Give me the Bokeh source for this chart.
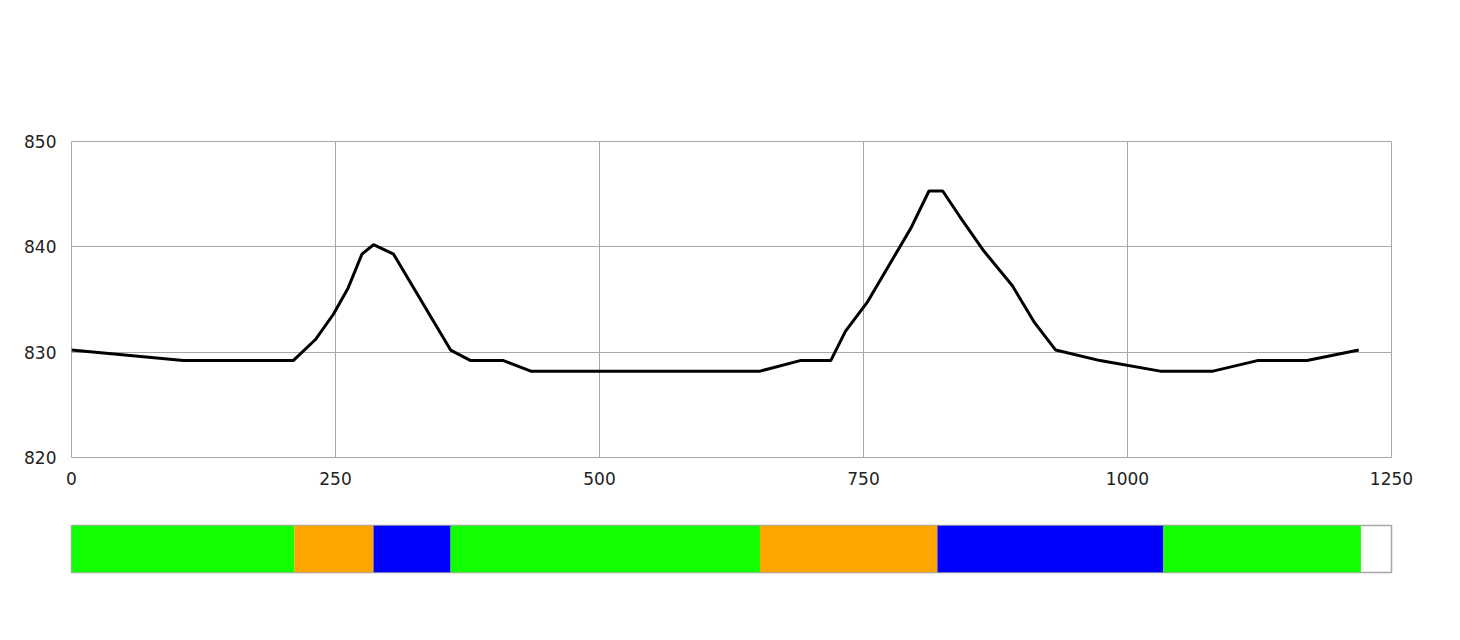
from bokeh.plotting import figure
from bokeh.layouts import column
from bokeh.models import Range1d, FixedTicker
from bokeh.embed import file_html
from bokeh.resources import INLINE

# Elevation profile
distance = [0, 106, 210, 231, 248, 262, 275, 286, 305, 359, 378, 409, 435, 652, 690, 719, 733,
            754, 795, 812, 825, 841, 864, 891, 912, 932, 974, 1031, 1081, 1123, 1170, 1219]
elevation = [830.2, 829.2, 829.2, 831.2, 833.6, 836.1, 839.3, 840.2, 839.3, 830.2, 829.2, 829.2, 828.2, 828.2, 829.2, 829.2, 832.0,
             834.8, 841.8, 845.3, 845.3, 842.9, 839.6, 836.3, 832.8, 830.2, 829.2, 828.2, 828.2, 829.2, 829.2, 830.2]

x_ticks = [0, 250, 500, 750, 1000, 1250]
y_ticks = [820, 830, 840, 850]

# Surface segments
seg_start = [0, 211, 286, 359, 652, 820, 1034]
seg_end = [211, 286, 359, 652, 820, 1034, 1221]
seg_color = ["#11FF00", "#FFA500", "#0000FF", "#11FF00", "#FFA500", "#0000FF", "#11FF00"]

FONT = "DejaVu Sans"
GRID = "#a8a8a8"

p = figure(width=1440, height=500, output_backend="svg", toolbar_location=None,
           x_range=Range1d(0, 1250), y_range=Range1d(820, 850),
           min_border_left=71, min_border_right=49, min_border_top=141, min_border_bottom=43)
p.line(distance, elevation, line_color="black", line_width=3)
p.xaxis.ticker = FixedTicker(ticks=x_ticks)
p.yaxis.ticker = FixedTicker(ticks=y_ticks)
for ax in (p.xaxis[0], p.yaxis[0]):
    ax.axis_line_color = None
    ax.major_tick_line_color = None
    ax.minor_tick_line_color = None
    ax.major_tick_out = 0
    ax.major_tick_in = 0
    ax.major_label_text_font = FONT
    ax.major_label_text_font_size = "17px"
    ax.major_label_text_color = "#222222"
p.xaxis.major_label_standoff = 14
p.yaxis.major_label_standoff = 15
p.xgrid.grid_line_color = GRID
p.ygrid.grid_line_color = GRID
p.xgrid.ticker = FixedTicker(ticks=x_ticks)
p.ygrid.ticker = FixedTicker(ticks=y_ticks)
p.outline_line_color = GRID
p.outline_line_width = 1

b = figure(width=1440, height=92, output_backend="svg", toolbar_location=None,
           x_range=Range1d(0, 1250), y_range=Range1d(0, 1),
           min_border_left=71, min_border_right=49, min_border_top=25, min_border_bottom=20)
b.quad(left=seg_start, right=seg_end, bottom=0, top=1, fill_color=seg_color, line_color=None)
b.axis.visible = False
b.grid.visible = False
b.outline_line_color = GRID
b.outline_line_width = 1.5

layout = column(p, b)
open("out.html", "w").write(file_html(layout, INLINE))
